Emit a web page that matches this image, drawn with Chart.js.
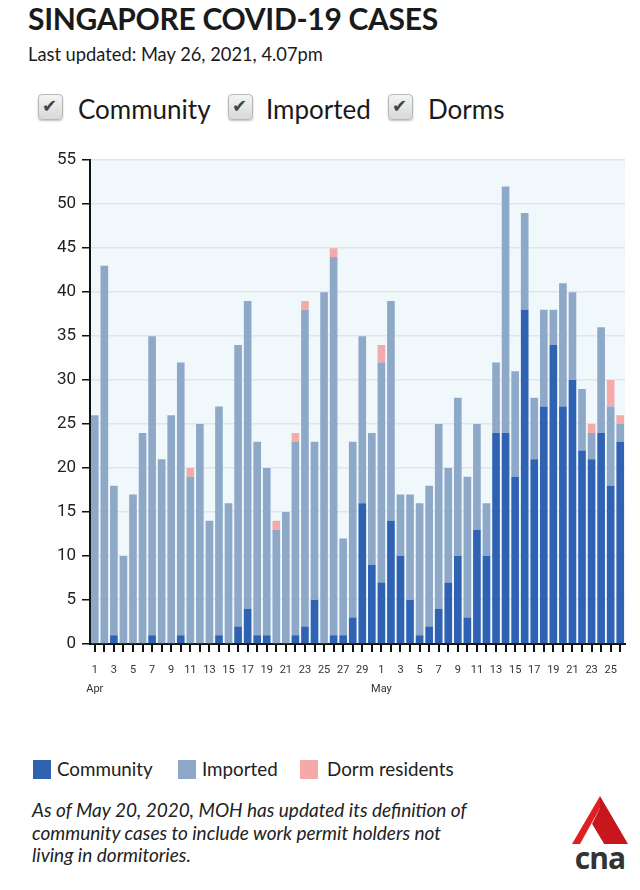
<!DOCTYPE html>
<html>
<head>
<meta charset="utf-8">
<script src="https://cdn.jsdelivr.net/npm/chart.js@4.4.1/dist/chart.umd.min.js"></script>
<style>
  html, body { margin: 0; padding: 0; background: #fff; width: 640px; height: 890px; overflow: hidden; }
  body { position: relative; font-family: Lato, sans-serif; color: #1a1a1a; }
  #title { position: absolute; left: 28px; top: 0px; font: bold 30px Lato, sans-serif; letter-spacing: -0.3px; white-space: nowrap; }
  #sub { position: absolute; left: 28px; top: 43px; font: 18.3px Lato, sans-serif; white-space: nowrap; }
  .cb { position: absolute; top: 94px; width: 23px; height: 24px; border: 1px solid #b8b8b8; border-radius: 4px;
        background: linear-gradient(#f4f4f4, #d8d8d8); box-shadow: 0 1px 2px rgba(0,0,0,0.25); }
  .cb span { position: absolute; left: 3px; top: 0px; font: 18px "DejaVu Sans", sans-serif; color: #444; }
  .cbl { position: absolute; top: 93px; font: 26px Lato, sans-serif; white-space: nowrap; }
  #wrap { position: absolute; left: 0; top: 144px; width: 640px; height: 550px; }
  .lg { position: absolute; top: 760px; width: 18px; height: 19px; }
  .lgt { position: absolute; top: 757px; font: 18.8px Lato, sans-serif; white-space: nowrap; color: #222; }
  #note { position: absolute; left: 32px; top: 799px; width: 450px; font: italic 19px Lato, sans-serif; line-height: 22.5px; color: #222; }
  #logo { position: absolute; left: 568px; top: 794px; width: 64px; height: 80px; }
</style>
</head>
<body>
<div id="title">SINGAPORE COVID-19 CASES</div>
<div id="sub">Last updated: May 26, 2021, 4.07pm</div>

<div class="cb" style="left:38px"><span>✔</span></div><div class="cbl" style="left:78px">Community</div>
<div class="cb" style="left:228px"><span>✔</span></div><div class="cbl" style="left:266px">Imported</div>
<div class="cb" style="left:388px"><span>✔</span></div><div class="cbl" style="left:428px">Dorms</div>

<div id="wrap"><canvas id="c" width="640" height="550"></canvas></div>

<div class="lg" style="left:33px;background:#2f62b3"></div><div class="lgt" style="left:57px">Community</div>
<div class="lg" style="left:178px;background:#8ea8c8"></div><div class="lgt" style="left:202px">Imported</div>
<div class="lg" style="left:300px;background:#f4aaa9"></div><div class="lgt" style="left:327px">Dorm residents</div>

<div id="note">As of May 20, 2020, MOH has updated its definition of community cases to include work permit holders not living in dormitories.</div>

<svg id="logo" viewBox="0 0 64 80">
  <polygon points="32,2 4,50 12,50 32,14" fill="#e02020"/>
  <polygon points="32,2 60,50 36,50 24,30 32,14" fill="#c8161d"/>
  <polygon points="24,30 36,50 20,50" fill="#ffffff"/>
  <text x="32" y="75" text-anchor="middle" font-family="'Open Sans', sans-serif" font-weight="bold" font-size="30" fill="#333" letter-spacing="-1">cna</text>
</svg>

<script>
// Day labels: April 1-30, May 1-26
const months = ["Apr", "May"];
const aprDays = [1,2,3,4,5,6,7,8,9,10,11,12,13,14,15,16,17,18,19,20,21,22,23,24,25,26,27,28,29,30];
const mayDays = [1,2,3,4,5,6,7,8,9,10,11,12,13,14,15,16,17,18,19,20,21,22,23,24,25,26];

// Community cases per day
const community = [
  0,0,1,0,0,0,1,0,0,1, 0,0,0,1,0,2,4,1,1,0, 0,1,2,5,0,1,1,3,16,9,
  7,14,10,5,1,2,4,7,10,3, 13,10,24,24,19,38,21,27,34,27, 30,22,21,24,18,23
];
// Imported cases per day
const imported = [
  26,43,17,10,17,24,34,21,26,31, 19,25,14,26,16,32,35,22,19,13, 15,22,36,18,40,43,11,20,19,15,
  25,25,7,12,15,16,21,13,18,16, 12,6,8,28,12,11,7,11,4,14, 10,7,3,12,9,2
];
// Dorm residents cases per day
const dorm = [
  0,0,0,0,0,0,0,0,0,0, 1,0,0,0,0,0,0,0,0,1, 0,1,1,0,0,1,0,0,0,0,
  2,0,0,0,0,0,0,0,0,0, 0,0,0,0,0,0,0,0,0,0, 0,0,1,0,3,1
];

const labels = [];
aprDays.forEach(d => labels.push({m: months[0], d}));
mayDays.forEach(d => labels.push({m: months[1], d}));
const catLabels = labels.map(l => l.m + " " + l.d);

const plotBg = {
  id: 'plotBg',
  beforeDraw(chart) {
    const {ctx, chartArea: a} = chart;
    ctx.save();
    ctx.fillStyle = '#f1f8fc';
    ctx.fillRect(a.left, a.top, a.right - a.left, a.bottom - a.top);
    ctx.restore();
  }
};

new Chart(document.getElementById('c'), {
  type: 'bar',
  data: {
    labels: catLabels,
    datasets: [
      { label: 'Community', data: community, backgroundColor: '#2f62b3' },
      { label: 'Imported', data: imported, backgroundColor: '#8ea8c8' },
      { label: 'Dorm residents', data: dorm, backgroundColor: '#f4aaa9' }
    ]
  },
  options: {
    responsive: false,
    animation: false,
    devicePixelRatio: 1,
    layout: { padding: { top: 3, right: 15, left: 0, bottom: 0 } },
    datasets: { bar: { barPercentage: 0.8, categoryPercentage: 1.0 } },
    plugins: { legend: { display: false }, tooltip: { enabled: false } },
    scales: {
      x: {
        stacked: true,
        offset: true,
        grid: { offset: false, drawOnChartArea: false, color: '#111', tickColor: '#111', tickLength: 8, lineWidth: 2 },
        border: { color: '#111', width: 2 },
        ticks: {
          autoSkip: false, maxRotation: 0, minRotation: 0, padding: 9,
          color: '#333', font: { family: 'Roboto', size: 11, lineHeight: 1.7 },
          callback: (v, i) => {
            const l = labels[i];
            if (l.d % 2 === 0) return '';
            return l.d === 1 ? [String(l.d), l.m] : String(l.d);
          }
        },
        afterFit: s => { s.height = 50; }
      },
      y: {
        stacked: true,
        min: 0, max: 55,
        ticks: { stepSize: 5, color: '#222', font: { family: 'Roboto', size: 17 }, padding: 6 },
        grid: { color: '#dfe5ea', tickColor: '#111', tickLength: 8, lineWidth: 1.5 },
        border: { color: '#111', width: 2 },
        afterFit: s => { s.width = 90; }
      }
    }
  },
  plugins: [plotBg]
});
</script>
</body>
</html>
